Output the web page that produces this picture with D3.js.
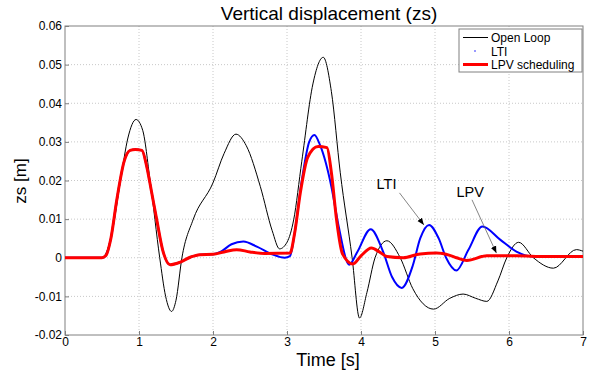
<!DOCTYPE html>
<html>
<head>
<meta charset="utf-8">
<script src="https://cdn.jsdelivr.net/npm/d3@7"></script>
<style>
  body { margin: 0; background: #fff; }
  text { font-family: "Liberation Sans", Arial, sans-serif; }
</style>
</head>
<body>
<div id="chart"></div>
<script>
// ==================== Vertical displacement (zs) ====================

// x / y ticks
const xTicks = [0, 1, 2, 3, 4, 5, 6, 7];
const yTicks = [-0.02, -0.01, 0, 0.01, 0.02, 0.03, 0.04, 0.05, 0.06];

// [time, zs]
const openLoop = [
  [0, 0], [0.5, 0], [0.55, 0.001], [0.65, 0.008], [0.75, 0.02], [0.85, 0.031],
  [0.96, 0.0358], [1.05, 0.033], [1.15, 0.02], [1.28, 0], [1.36, -0.01],
  [1.44, -0.0139], [1.5, -0.011], [1.58, 0], [1.73, 0.0098], [2.0, 0.0194],
  [2.15, 0.027], [2.31, 0.032], [2.45, 0.029], [2.64, 0.0184], [2.8, 0.007],
  [2.9, 0.0023], [3.0, 0.004], [3.09, 0.0098], [3.2, 0.025], [3.35, 0.045],
  [3.49, 0.0519], [3.6, 0.043], [3.72, 0.022], [3.88, 0], [3.98, -0.0156],
  [4.08, -0.009], [4.19, 0], [4.35, 0.0044], [4.53, 0], [4.7, -0.008],
  [4.98, -0.0133], [5.2, -0.0105], [5.38, -0.0094], [5.55, -0.0105],
  [5.7, -0.0113], [5.85, -0.006], [5.97, 0], [6.13, 0.004], [6.33, 0],
  [6.6, -0.0027], [6.91, 0.0021], [7, 0.0017]
];

const lti = [
  [0, 0], [0.5, 0], [0.55, 0.0005], [0.62, 0.005], [0.7, 0.015], [0.8, 0.025],
  [0.88, 0.0278], [0.95, 0.028], [1.04, 0.0278], [1.1, 0.024], [1.17, 0.017],
  [1.24, 0.0098], [1.32, 0.002], [1.42, -0.0018], [1.55, -0.0012], [1.7, 0.0002],
  [1.82, 0.0008], [2.0, 0.0009], [2.1, 0.0015], [2.25, 0.0035], [2.41, 0.0042],
  [2.6, 0.0028], [2.81, 0.0008], [2.97, 0], [3.04, 0.0004], [3.1, 0.006],
  [3.2, 0.02], [3.3, 0.03], [3.37, 0.0318], [3.45, 0.029], [3.6, 0.0184],
  [3.7, 0.008], [3.84, -0.0018], [3.95, 0.0015], [4.13, 0.0074], [4.3, 0.0015],
  [4.42, -0.005], [4.55, -0.0078], [4.7, -0.002], [4.8, 0.005], [4.92, 0.0085],
  [5.05, 0.005], [5.15, 0], [5.29, -0.0033], [5.45, 0.002], [5.64, 0.0081],
  [5.88, 0.0047], [6.1, 0.0016], [6.33, 0.0003], [7, 0.0002]
];

const lpv = [
  [0, 0], [0.5, 0], [0.55, 0.0005], [0.62, 0.005], [0.7, 0.015], [0.8, 0.025],
  [0.88, 0.0278], [0.95, 0.028], [1.04, 0.0278], [1.1, 0.024], [1.17, 0.017],
  [1.24, 0.0098], [1.32, 0.002], [1.42, -0.0018], [1.55, -0.0012], [1.7, 0.0002],
  [1.82, 0.0008], [2.0, 0.0009], [2.15, 0.0015], [2.32, 0.0021], [2.5, 0.0015],
  [2.7, 0.0011], [3.04, 0.0012], [3.1, 0.006], [3.18, 0.0168], [3.28, 0.026],
  [3.42, 0.0288], [3.54, 0.0285], [3.6, 0.022], [3.67, 0.0098], [3.75, 0.001],
  [3.89, -0.0016], [4.0, 0.0005], [4.14, 0.0025], [4.25, 0.0015], [4.35, 0.0003],
  [4.57, 0], [4.8, 0.001], [5.02, 0.0012], [5.2, 0.0006], [5.29, 0],
  [5.43, -0.0007], [5.7, 0.0005], [6.1, 0.0005], [6.5, 0.0003], [7, 0.0003]
];

// annotations: label position, arrow start and arrow tip as (t, zs)
const notes = [
  {label: "LTI", at: [4.21, 0.0177], from: [4.52, 0.0168], tip: [4.85, 0.0085]},
  {label: "LPV", at: [5.29, 0.0156], from: [5.50, 0.0150], tip: [5.83, 0.0012]}
];

const width = 595, height = 374;
const marginLeft = 65, marginRight = 12, marginTop = 26, marginBottom = 39;

const x = d3.scaleLinear().domain([0, 7]).range([marginLeft, width - marginRight]);
const y = d3.scaleLinear().domain([-0.02, 0.06]).range([height - marginBottom, marginTop]);

const svg = d3.select("#chart").append("svg")
  .attr("width", width).attr("height", height)
  .attr("viewBox", [0, 0, width, height]);

// grid
svg.append("g").selectAll("line").data(xTicks.slice(1, -1)).join("line")
  .attr("x1", d => x(d)).attr("x2", d => x(d))
  .attr("y1", marginTop).attr("y2", height - marginBottom)
  .attr("stroke", "#c8c8c8").attr("stroke-dasharray", "1,2");
svg.append("g").selectAll("line").data(yTicks.slice(1, -1)).join("line")
  .attr("x1", marginLeft).attr("x2", width - marginRight)
  .attr("y1", d => y(d)).attr("y2", d => y(d))
  .attr("stroke", "#c8c8c8").attr("stroke-dasharray", "1,2");

// axes
const fmtY = d => d === 0 ? "0" : d3.format(".2f")(d).replace("−", "-");
svg.append("g").attr("transform", `translate(0,${height - marginBottom})`)
  .call(d3.axisBottom(x).tickValues(xTicks).tickSize(-4).tickPadding(2).tickFormat(d3.format("d")))
  .call(g => g.select(".domain").remove());
svg.append("g").attr("transform", `translate(${marginLeft},0)`)
  .call(d3.axisLeft(y).tickValues(yTicks).tickSize(-4).tickPadding(3).tickFormat(fmtY))
  .call(g => g.select(".domain").remove());
svg.selectAll(".tick line").attr("stroke", "#808080");
svg.selectAll(".tick text").attr("fill", "#000").style("font-size", "12px")
  .style("font-family", "'Liberation Sans', Arial, sans-serif");

// frame
svg.append("rect")
  .attr("x", marginLeft).attr("y", marginTop)
  .attr("width", width - marginLeft - marginRight)
  .attr("height", height - marginTop - marginBottom)
  .attr("fill", "none").attr("stroke", "#808080");

// curves
const line = d3.line().x(d => x(d[0])).y(d => y(d[1])).curve(d3.curveMonotoneX);
svg.append("path").datum(openLoop).attr("d", line)
  .attr("fill", "none").attr("stroke", "#000").attr("stroke-width", 1);
svg.append("path").datum(lti).attr("d", line)
  .attr("fill", "none").attr("stroke", "#0000ff").attr("stroke-width", 2);
svg.append("path").datum(lpv).attr("d", line)
  .attr("fill", "none").attr("stroke", "#ff0000").attr("stroke-width", 3);

// annotations
svg.append("defs").append("marker")
  .attr("id", "head").attr("viewBox", "0 0 10 10")
  .attr("refX", 10).attr("refY", 5)
  .attr("markerWidth", 7).attr("markerHeight", 7)
  .attr("markerUnits", "userSpaceOnUse")
  .attr("orient", "auto")
  .append("path").attr("d", "M0,1 L10,5 L0,9 Z").attr("fill", "#000");
notes.forEach(n => {
  svg.append("line")
    .attr("x1", x(n.from[0])).attr("y1", y(n.from[1]))
    .attr("x2", x(n.tip[0])).attr("y2", y(n.tip[1]))
    .attr("stroke", "#666").attr("stroke-width", 0.8)
    .attr("marker-end", "url(#head)");
  svg.append("text")
    .attr("x", x(n.at[0])).attr("y", y(n.at[1]))
    .attr("font-size", 14.5).attr("fill", "#000")
    .text(n.label);
});

// title & labels
svg.append("text").attr("x", 329).attr("y", 20)
  .attr("text-anchor", "middle").attr("font-size", 19).text("Vertical displacement (zs)");
svg.append("text").attr("x", 328).attr("y", 366)
  .attr("text-anchor", "middle").attr("font-size", 18).text("Time [s]");
svg.append("text")
  .attr("transform", `translate(26,181) rotate(-90)`)
  .attr("text-anchor", "middle").attr("font-size", 17).text("zs [m]");

// legend
const legend = svg.append("g").attr("transform", "translate(459,29)");
legend.append("rect").attr("width", 123).attr("height", 43)
  .attr("fill", "#fff").attr("stroke", "#808080");
const legendItems = [
  {name: "Open Loop", color: "#000", w: 1, dot: false},
  {name: "LTI", color: "#0000ff", w: 2, dot: true},
  {name: "LPV scheduling", color: "#ff0000", w: 3, dot: false}
];
legendItems.forEach((it, i) => {
  const yy = 8.5 + i * 13.5;
  if (it.dot) {
    legend.append("circle").attr("cx", 16).attr("cy", yy).attr("r", 1).attr("fill", "#7777ff");
  } else {
    legend.append("line").attr("x1", 4).attr("x2", 29).attr("y1", yy).attr("y2", yy)
      .attr("stroke", it.color).attr("stroke-width", it.w);
  }
  legend.append("text").attr("x", 32).attr("y", yy + 4.5).attr("font-size", 12).text(it.name);
});
</script>
</body>
</html>
